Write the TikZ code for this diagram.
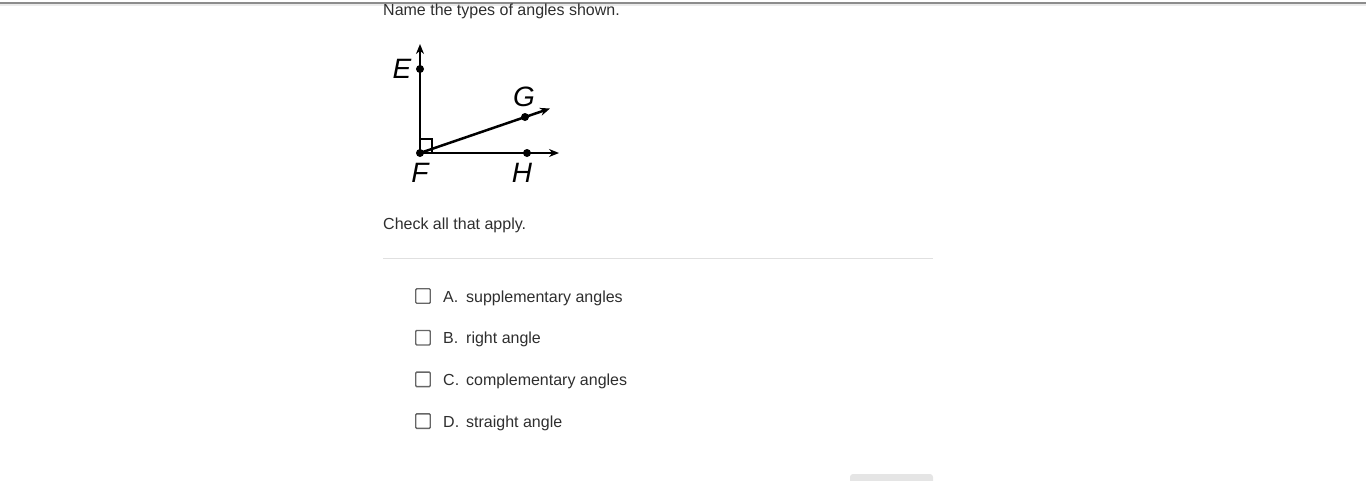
\documentclass[tikz,border=0pt]{standalone}
\usepackage{fontspec}
\setmainfont{Liberation Sans}
\usetikzlibrary{arrows.meta}
\tikzset{
  /tikz/.cd,
  pt/.style={circle,fill=black,inner sep=0pt,minimum size=8pt},
  ptlabel/.style={font=\fontsize{28}{28}\selectfont\itshape,inner sep=0pt},
  chk/.style={draw=black!60,line width=1.4pt,rounded corners=1pt,minimum size=14.5pt,inner sep=0pt},
  txt/.style={font=\fontsize{16}{19}\selectfont,text=black!82,inner sep=0pt,anchor=base west}
}

\begin{document}
\begin{tikzpicture}[x=1pt,y=-1pt,
                    ray/.style={line width=2.5pt,-{Stealth[length=10pt,width=8pt]}}]
  \useasboundingbox (0,0) rectangle (1366,480);

  % top bar
  \fill[black!8] (0,3.5) rectangle (1366,6);
  \draw[black!45,line width=1.2pt] (0,3) -- (1366,3);

  \node[txt] (question) at (383,15) {Name the types of angles shown.};

  % the figure
  \node[pt] (F) at (420,153) {};
  \node[pt] (E) at (420,69) {};
  \node[pt] (G) at (525,117) {};
  \node[pt] (H) at (527,153) {};
  \coordinate (Etip) at (420,44);
  \coordinate (Gtip) at (550,108.5);
  \coordinate (Htip) at (559,153);

  \draw[ray] (F.center) -- (Etip);
  \draw[ray] (F.center) -- (Gtip);
  \draw[ray] (F.center) -- (Htip);
  \draw[line width=1.5pt] (F.center) ++(0,-14) -| ++(12,14);

  \node[ptlabel] (Elab) at (402,69) {E};
  \node[ptlabel] (Glab) at (524,97) {G};
  \node[ptlabel] (Flab) at (420,173) {F};
  \node[ptlabel] (Hlab) at (522,173) {H};

  \node[txt] (check) at (383,229.5) {Check all that apply.};
  \draw[black!12,line width=1pt] (383,258) -- (933,258);

  % choices
  \foreach \l/\t [count=\i, evaluate=\i as \y using 296+41.7*(\i-1)] in
      {A/supplementary angles, B/right angle, C/complementary angles, D/straight angle} {
    \node[chk] (box\l) at (423,\y) {};
    \node[txt] (let\l) at (443,\y+6) {\l.};
    \node[txt] (opt\l) at (466,\y+6) {\t};
  }

  % button, cut off
  \fill[black!10,rounded corners=3pt] (850,474) rectangle (933,495);
\end{tikzpicture}
\end{document}
